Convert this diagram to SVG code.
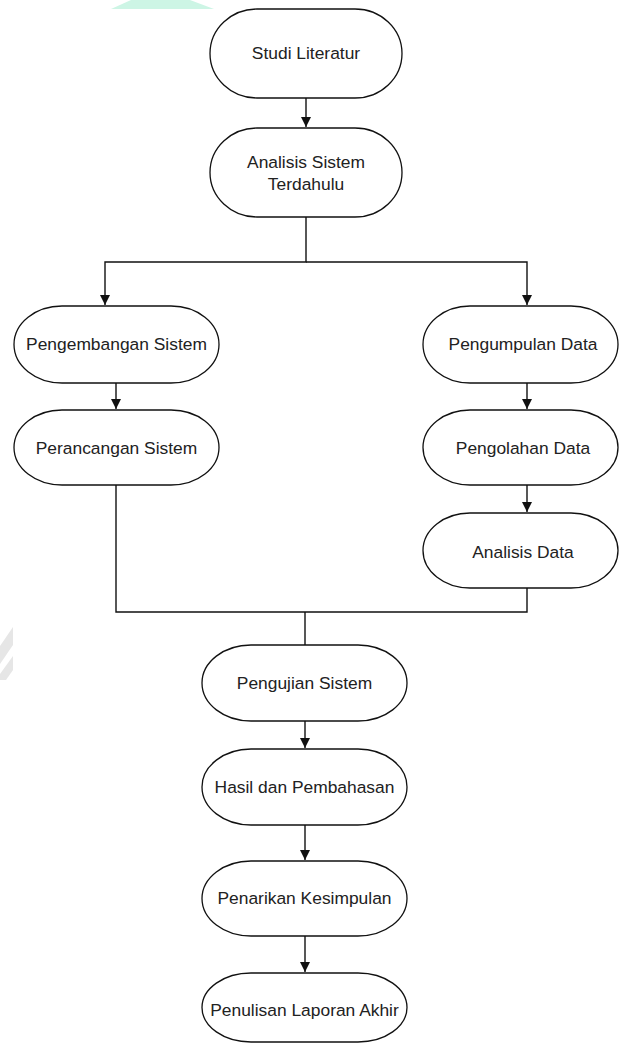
<svg xmlns="http://www.w3.org/2000/svg" width="619" height="1044" viewBox="0 0 619 1044">
<style>
.n{fill:#fff;stroke:#111;stroke-width:1.3}
.t{font-family:"Liberation Sans",Arial,sans-serif;font-size:17.4px;fill:#222;text-anchor:middle}
.c{fill:none;stroke:#111;stroke-width:1.4}
</style>
<defs>
<marker id="ah" viewBox="0 0 10 10" refX="10" refY="5" markerWidth="10" markerHeight="10" markerUnits="userSpaceOnUse" orient="auto">
<path d="M0,0 L10,5 L0,10 z" fill="#111"/>
</marker>
</defs>
<rect width="619" height="1044" fill="#fff"/>
<polygon points="131,0 190,0 214,9 111,9" fill="#cdf5e5"/>
<polygon points="0,646 13,627 13,645 0,664" fill="#e6e6e6"/>
<polygon points="13,656 13,670 6,680 0,680 0,674" fill="#e6e6e6"/>
<g id="connectors">
<path class="c" d="M306,98 V127" marker-end="url(#ah)"/>
<path class="c" d="M306,217 V262 H105 V305" marker-end="url(#ah)"/>
<path class="c" d="M306,262 H527 V305" marker-end="url(#ah)"/>
<path class="c" d="M116,383 V409" marker-end="url(#ah)"/>
<path class="c" d="M527,383 V409" marker-end="url(#ah)"/>
<path class="c" d="M527,485 V512" marker-end="url(#ah)"/>
<path class="c" d="M116,485 V612 H527 V588"/>
<path class="c" d="M305,612 V645"/>
<path class="c" d="M305,721 V748" marker-end="url(#ah)"/>
<path class="c" d="M305,825 V860" marker-end="url(#ah)"/>
<path class="c" d="M305,936 V972" marker-end="url(#ah)"/>
</g>
<g id="studi-literatur"><rect class="n" x="210" y="9" width="192" height="89" rx="47" ry="44.5"/><text class="t" x="306" y="59">Studi Literatur</text></g>
<g id="analisis-sistem"><rect class="n" x="210" y="128" width="192" height="89" rx="47" ry="44.5"/><text class="t" x="306" y="168">Analisis Sistem</text><text class="t" x="306" y="190">Terdahulu</text></g>
<g id="pengembangan"><rect class="n" x="14" y="306" width="205" height="77" rx="48" ry="38.5"/><text class="t" x="116.5" y="350">Pengembangan Sistem</text></g>
<g id="perancangan"><rect class="n" x="14" y="410" width="205" height="75" rx="48" ry="37.5"/><text class="t" x="116.5" y="454">Perancangan Sistem</text></g>
<g id="pengumpulan"><rect class="n" x="423" y="306" width="195" height="77" rx="47" ry="38.5"/><text class="t" x="523" y="350">Pengumpulan Data</text></g>
<g id="pengolahan"><rect class="n" x="423" y="410" width="195" height="75" rx="47" ry="37.5"/><text class="t" x="523" y="454">Pengolahan Data</text></g>
<g id="analisis-data"><rect class="n" x="423" y="513" width="195" height="75" rx="47" ry="37.5"/><text class="t" x="523" y="558">Analisis Data</text></g>
<g id="pengujian"><rect class="n" x="202" y="645" width="205" height="76" rx="49" ry="38"/><text class="t" x="304.5" y="689">Pengujian Sistem</text></g>
<g id="hasil"><rect class="n" x="202" y="749" width="205" height="76" rx="49" ry="38"/><text class="t" x="304.5" y="793">Hasil dan Pembahasan</text></g>
<g id="penarikan"><rect class="n" x="202" y="861" width="205" height="75" rx="49" ry="37.5"/><text class="t" x="304.5" y="904">Penarikan Kesimpulan</text></g>
<g id="penulisan"><rect class="n" x="202" y="973" width="205" height="69" rx="49" ry="34.5"/><text class="t" x="304.5" y="1016">Penulisan Laporan Akhir</text></g>
</svg>
